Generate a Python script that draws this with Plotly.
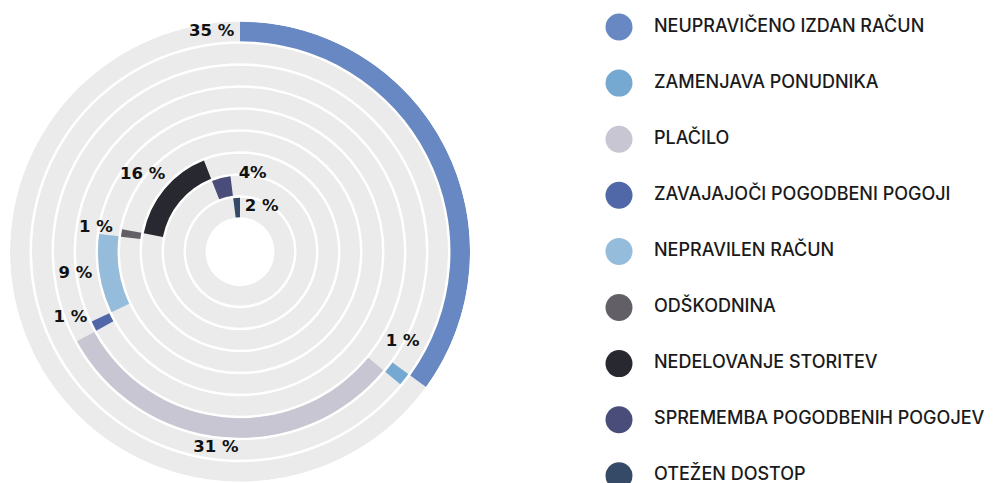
import plotly.graph_objects as go

# Complaint categories and their shares (%)
categories = [
    "NEUPRAVIČENO IZDAN RAČUN",
    "ZAMENJAVA PONUDNIKA",
    "PLAČILO",
    "ZAVAJAJOČI POGODBENI POGOJI",
    "NEPRAVILEN RAČUN",
    "ODŠKODNINA",
    "NEDELOVANJE STORITEV",
    "SPREMEMBA POGODBENIH POGOJEV",
    "OTEŽEN DOSTOP",
]
shares = [35, 1, 31, 1, 9, 1, 16, 4, 2]
value_labels = ["35 %", "1 %", "31 %", "1 %", "9 %", "1 %", "16 %", "4%", "2 %"]
colors = ["#6788c3", "#76a9d2", "#c7c6d2", "#5068a8", "#95bcdb",
          "#626066", "#272830", "#4a4d7a", "#344a66"]

# ring geometry (radial axis units ~ pixels)
R_OUT = 230
PITCH = 22
THICK = 19.5
n = len(categories)
ring_base = [R_OUT - PITCH * i - THICK for i in range(n)]

# each arc starts where the previous one ended (stacked around the circle)
starts = []
acc = 0
for s in shares:
    starts.append(acc)
    acc += s
deg_start = [a * 3.6 for a in starts]
deg_width = [s * 3.6 for s in shares]
deg_mid = [a + w / 2 for a, w in zip(deg_start, deg_width)]

# label placement (radius, angle) relative to each arc
label_r = [220, 186, 198, 182, 166, 146, 124, 78, 45]
label_theta = [deg_start[0] - 1.5, deg_start[1] - 7, deg_mid[2] + 1.6,
               deg_start[3] + deg_width[3] + 4, deg_mid[4] + 1.4,
               deg_start[5] + 2.3, deg_mid[6] - 1.3, -1, 6]
label_pos = ["middle left", "middle center", "middle center", "middle center",
             "middle center", "middle center", "middle center", "middle right",
             "middle right"]

fig = go.Figure()

# gray background rings
fig.add_trace(go.Barpolar(
    r=[THICK] * n, base=ring_base, theta=[180] * n, width=[360] * n,
    marker=dict(color="#ebebeb", line=dict(width=0)),
    hoverinfo="skip", showlegend=False,
))

# category arcs
fig.add_trace(go.Barpolar(
    r=[THICK] * n, base=ring_base, theta=deg_mid, width=deg_width,
    marker=dict(color=colors, line=dict(width=0)),
    customdata=categories, hovertemplate="%{customdata}<extra></extra>",
    showlegend=False,
))

# value labels
for i in range(n):
    fig.add_trace(go.Scatterpolar(
        r=[label_r[i]], theta=[label_theta[i]], mode="text",
        text=[value_labels[i]], textposition=label_pos[i],
        textfont=dict(family="DejaVu Sans", size=16.5, color="#111111", weight=700),
        hoverinfo="skip", showlegend=False,
    ))

# legend drawn as a column of markers with labels
rows = list(range(n))
fig.add_trace(go.Scatter(
    x=[0] * n, y=rows, mode="markers",
    marker=dict(size=27, color=colors, line=dict(width=0)),
    xaxis="x", yaxis="y", hoverinfo="skip", showlegend=False,
))
fig.add_trace(go.Scatter(
    x=[1] * n, y=rows, mode="text", text=categories, textposition="middle right",
    textfont=dict(family="Inter", size=18, color="#1a1a1a", weight=500),
    xaxis="x", yaxis="y", hoverinfo="skip", showlegend=False,
))

W, H = 995, 483
cx, cy = 240, 251.7
fig.update_layout(
    width=W, height=H,
    margin=dict(l=0, r=0, t=0, b=0),
    paper_bgcolor="white", plot_bgcolor="white",
    polar=dict(
        domain=dict(x=[(cx - R_OUT) / W, (cx + R_OUT) / W],
                    y=[(H - cy - R_OUT) / H, (H - cy + R_OUT) / H]),
        bgcolor="rgba(0,0,0,0)",
        radialaxis=dict(range=[0, R_OUT], visible=False),
        angularaxis=dict(visible=False, rotation=90, direction="clockwise"),
        barmode="overlay",
    ),
    xaxis=dict(domain=[605 / W, 1.0], range=[-0.4, (W - 605) / 35 - 0.4],
               visible=False, fixedrange=True),
    yaxis=dict(domain=[0, 1], range=[(H - 27) / 56.1, -27 / 56.1],
               visible=False, fixedrange=True),
    showlegend=False,
)

fig.write_html("out.html")
